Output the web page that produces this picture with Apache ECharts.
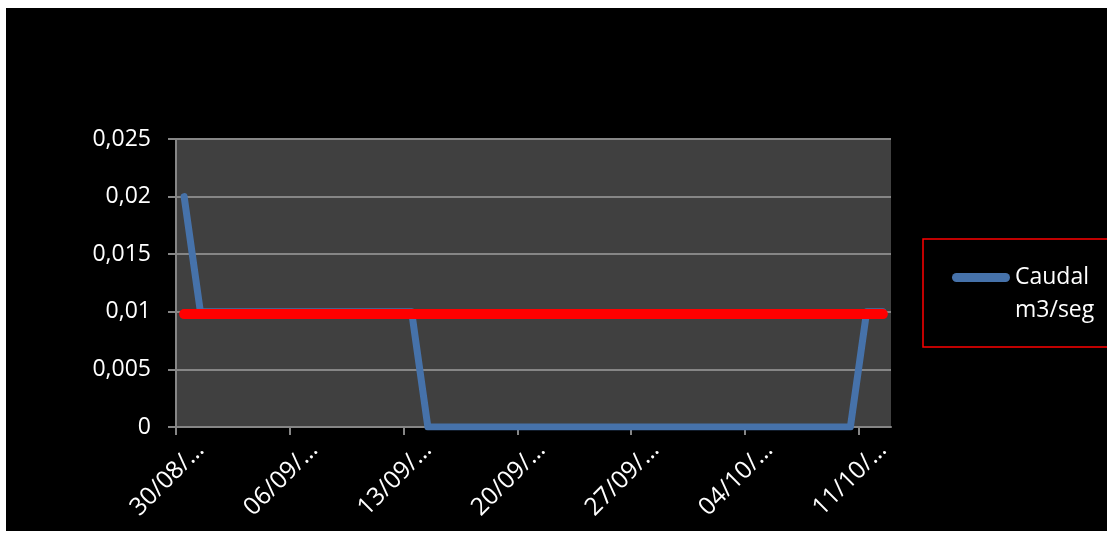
<!DOCTYPE html>
<html>
<head>
<meta charset="utf-8">
<title>Caudal m3/seg</title>
<script src="https://cdn.jsdelivr.net/npm/echarts@6/dist/echarts.min.js"></script>
<style>
  html, body { margin: 0; padding: 0; background: #ffffff; }
  #chart { position: absolute; left: 6px; top: 8px; width: 1101px; height: 523px; }
</style>
</head>
<body>
<div id="chart"></div>
<script>
// Daily dates, 30/08 to 12/10
const days = [
  '30/08/2010', '31/08/2010', '01/09/2010', '02/09/2010', '03/09/2010', '04/09/2010',
  '05/09/2010', '06/09/2010', '07/09/2010', '08/09/2010', '09/09/2010', '10/09/2010',
  '11/09/2010', '12/09/2010', '13/09/2010', '14/09/2010', '15/09/2010', '16/09/2010',
  '17/09/2010', '18/09/2010', '19/09/2010', '20/09/2010', '21/09/2010', '22/09/2010',
  '23/09/2010', '24/09/2010', '25/09/2010', '26/09/2010', '27/09/2010', '28/09/2010',
  '29/09/2010', '30/09/2010', '01/10/2010', '02/10/2010', '03/10/2010', '04/10/2010',
  '05/10/2010', '06/10/2010', '07/10/2010', '08/10/2010', '09/10/2010', '10/10/2010',
  '11/10/2010', '12/10/2010'
];

// Measured flow (m3/seg)
const caudal = [
  0.02, 0.01, 0.01, 0.01, 0.01, 0.01,
  0.01, 0.01, 0.01, 0.01, 0.01, 0.01,
  0.01, 0.01, 0.01, 0, 0, 0,
  0, 0, 0, 0, 0, 0,
  0, 0, 0, 0, 0, 0,
  0, 0, 0, 0, 0, 0,
  0, 0, 0, 0, 0, 0,
  0.01, 0.01
];

// Reference flow level
const referencia = days.map(() => 0.0098);

// Tick labels shown under the weekly ticks
const tickLabels = ['30/08/…', '06/09/…', '13/09/…', '20/09/…', '27/09/…', '04/10/…', '11/10/…'];
const yTicks = { min: 0, max: 0.025, step: 0.005 };

const seriesName = 'Caudal m3/seg';

// Each day occupies one unit on the x scale; points sit at the middle of their day
const toPoints = (vals) => vals.map((v, i) => [i + 0.5, v]);
const weekTicks = tickLabels.map((_, k) => k * 7);
const LABEL_SHIFT = 1.5;

const chart = echarts.init(document.getElementById('chart'), null, { renderer: 'canvas' });
const font = '"Open Sans", "Noto Sans", sans-serif';

chart.setOption({
  animation: false,
  backgroundColor: '#000000',
  textStyle: { fontFamily: font },
  grid: {
    left: 170, top: 131, right: 216, bottom: 104,
    show: true, backgroundColor: '#404040', borderWidth: 0
  },
  legend: {
    data: [seriesName],
    left: 946, top: 220,
    padding: 0,
    itemWidth: 58, itemHeight: 9,
    icon: 'path://M4.5,0 L53.5,0 A4.5,4.5 0 0 1 53.5,9 L4.5,9 A4.5,4.5 0 0 1 4.5,0 Z',
    formatter: (name) => '\n' + name.replace(' ', '\n'),
    textStyle: { color: '#ffffff', fontSize: 23, lineHeight: 33, fontFamily: font },
    selectedMode: false
  },
  graphic: [{
    type: 'rect',
    shape: { x: 917, y: 231, width: 200, height: 108 },
    style: { fill: 'none', stroke: '#ff0000', lineWidth: 1.5 },
    silent: true
  }],
  xAxis: {
    type: 'value',
    min: 0, max: days.length,
    axisLine: { show: true, lineStyle: { color: '#868686', width: 2 } },
    axisTick: {
      show: true, length: 8,
      customValues: weekTicks,
      lineStyle: { color: '#868686', width: 2 }
    },
    splitLine: { show: false },
    axisLabel: {
      customValues: weekTicks.map(v => v + LABEL_SHIFT),
      formatter: (v) => tickLabels[Math.round((v - LABEL_SHIFT) / 7)] || '',
      rotate: 45,
      margin: 19,
      color: '#ffffff',
      fontSize: 24.5,
      fontFamily: font
    }
  },
  yAxis: {
    type: 'value',
    min: yTicks.min, max: yTicks.max, interval: yTicks.step,
    axisLine: { show: true, lineStyle: { color: '#868686', width: 2 } },
    axisTick: { show: true, length: 8, lineStyle: { color: '#868686', width: 2 } },
    splitLine: { show: true, lineStyle: { color: '#868686', width: 2 } },
    axisLabel: {
      margin: 25,
      color: '#ffffff',
      fontSize: 23,
      fontFamily: font,
      formatter: (v) => String(+v.toFixed(3)).replace('.', ',')
    }
  },
  series: [
    {
      name: seriesName,
      type: 'line',
      data: toPoints(caudal),
      symbol: 'none',
      color: '#4672AA',
      lineStyle: { color: '#4672AA', width: 7, cap: 'round', join: 'round' }
    },
    {
      name: 'Referencia',
      type: 'line',
      data: toPoints(referencia),
      symbol: 'none',
      color: '#ff0000',
      lineStyle: { color: '#ff0000', width: 10, cap: 'round', join: 'round' }
    }
  ]
});
</script>
</body>
</html>
